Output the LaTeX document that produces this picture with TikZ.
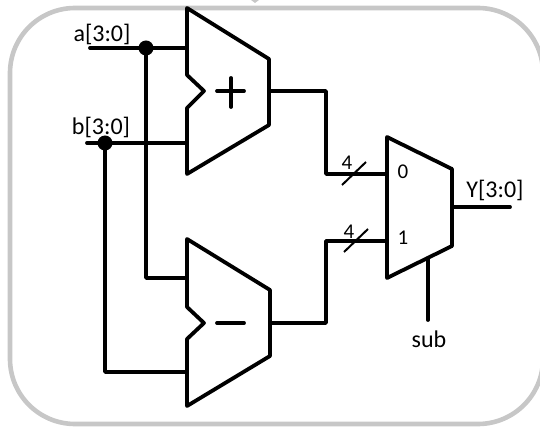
\documentclass[tikz,border=0pt]{standalone}
\usepackage{fontspec}
\setmainfont{Carlito}
\usetikzlibrary{positioning, calc}
\tikzset{
  wire/.style={line width=3.8pt, line cap=round, line join=round},
  pindot/.style={circle, fill=black, inner sep=0pt, minimum size=15pt},
  sigtext/.style={font=\fontsize{24}{26}\selectfont, inner sep=0pt},
  widthtext/.style={font=\fontsize{21}{23}\selectfont, inner sep=0pt},
  busmark/.style={line width=2pt}
}
\begin{document}
\begin{tikzpicture}[x=1pt, y=-1pt]
  \useasboundingbox (0,0) rectangle (540,427);
  % outer frame
  \draw[line width=4.6pt, color=black!22, rounded corners=65pt] (10,8) rectangle (543,424);
  \fill[color=black!22] (251,0) -- (259,0) -- (255,3) -- cycle;

  % adder, subtractor and mux outlines
  \draw[wire] (187,8) -- (269,59) -- (269,125) -- (187,174) -- (187,108) -- (204,91) -- (187,75) -- cycle;
  \draw[wire] (187,239) -- (270,290) -- (270,356) -- (187,406) -- (187,339) -- (204,323) -- (187,307) -- cycle;
  \draw[wire] (387,137) -- (452,169) -- (452,246) -- (387,278) -- cycle;
  \draw[wire] (217,91) -- (244,91) (231,78) -- (231,107);
  \draw[wire] (217,323) -- (244,323);

  % pins
  \coordinate (ain) at (90,48);
  \coordinate (bin) at (87,143);
  \coordinate (addA) at (187,48);
  \coordinate (addB) at (187,143);
  \coordinate (subA) at (187,278);
  \coordinate (subB) at (187,372);
  \coordinate (addOut) at (270,91);
  \coordinate (subOut) at (270,323);
  \coordinate (muxA) at (387,174);
  \coordinate (muxB) at (387,241);
  \coordinate (muxOut) at (452,207);
  \coordinate (yout) at (510,207);
  \coordinate (muxSel) at (428,258);
  \coordinate (subin) at (428,320);
  \node[pindot] (adot) at (146,48) {};
  \node[pindot] (bdot) at (105,143) {};

  % wires
  \draw[wire] (ain) -- (addA);
  \draw[wire] (bin) -- (addB);
  \draw[wire] (adot.center) |- (subA);
  \draw[wire] (bdot.center) |- (subB);
  \draw[wire] (addOut) -- (326,91) |- (muxA);
  \draw[wire] (subOut) -- (326,323) |- (muxB);
  \draw[wire] (muxOut) -- (yout);
  \draw[wire] (muxSel) -- (subin);

  % bus width marks
  \draw[busmark] (342,185) -- (366,162);
  \draw[busmark] (344,252) -- (368,229);

  % labels
  \node[sigtext] (alabel) at (102,34) {a[3:0]};
  \node[sigtext] (blabel) at (101,127) {b[3:0]};
  \node[sigtext] (ylabel) at (495,190) {Y[3:0]};
  \node[sigtext] (sublabel) at (429,339) {sub};
  \node[widthtext] (zero) at (403,172) {0};
  \node[widthtext] (one) at (403,238) {1};
  \node[widthtext] (fourA) at (347,163) {4};
  \node[widthtext] (fourB) at (349,232) {4};
\end{tikzpicture}
\end{document}
